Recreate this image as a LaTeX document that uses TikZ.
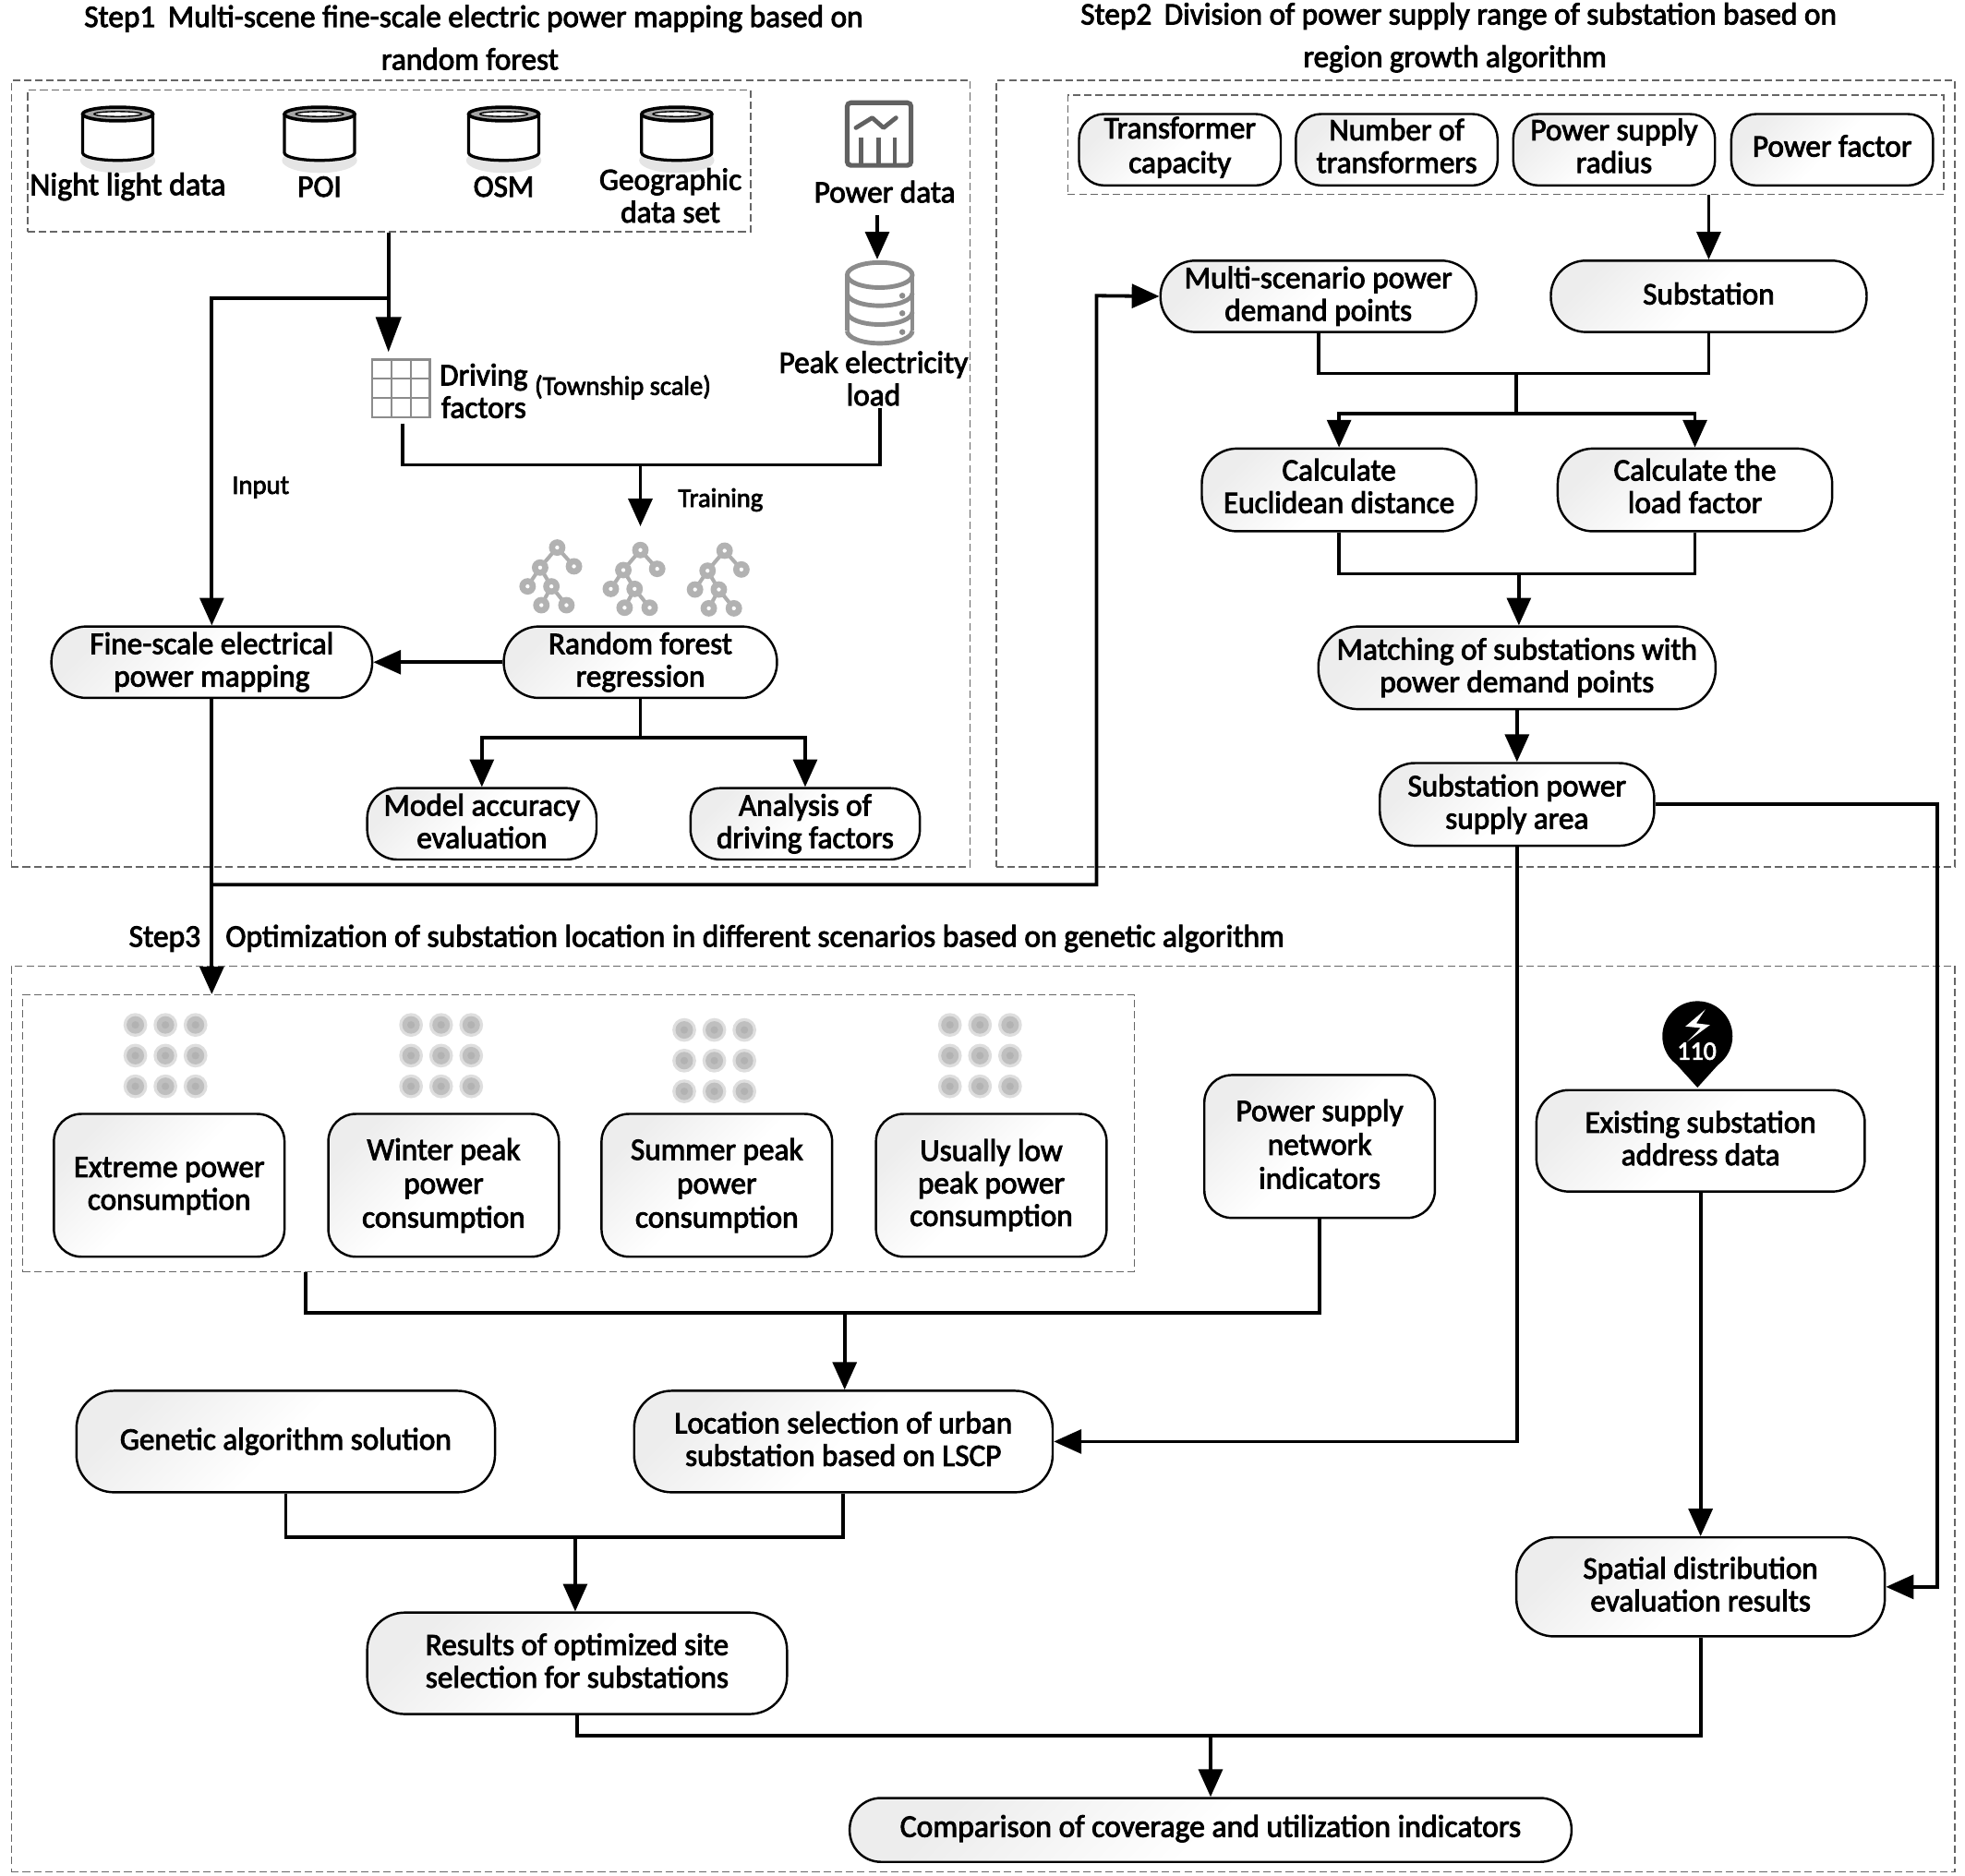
\documentclass[tikz,border=0pt]{standalone}
\usepackage{fontspec}
\setmainfont[FakeBold=2.6,FakeStretch=0.98]{Carlito}
\usetikzlibrary{arrows.meta,calc}
\newcommand\ST{\leavevmode\vrule height .708\baselineskip depth .212\baselineskip width 0pt\relax}
\newcommand\STb{\leavevmode\vrule height .67\baselineskip depth .25\baselineskip width 0pt\relax}
\newcommand\STc{\leavevmode\vrule height .63\baselineskip depth .29\baselineskip width 0pt\relax}
\tikzset{
 x=1pt,y=-1pt,
 bx/.style={draw=black,line width=1.8pt,align=center,inner sep=0pt,left color=black!7,right color=white,middle color=white,shading angle=45,font=\fontsize{25}{26}\selectfont},
 tx/.style={align=center,inner sep=0pt,font=\fontsize{25}{26}\selectfont},
 smalltx/.style={align=center,inner sep=0pt,font=\fontsize{21.5}{24}\selectfont},
 dash box/.style={draw=black!60,line width=1pt,dash pattern=on 6pt off 3pt,inner sep=0pt},
 conn/.style={line width=2.8pt,draw=black},
 arr/.style={conn,-{Triangle[length=22pt,width=19pt]}},
}
\begin{document}
\begin{tikzpicture}
\useasboundingbox (0,0) rectangle (1568,1497);
% outer dashed frames
\node[dash box,minimum width=765pt,minimum height=628pt] (frameA) at (391.5,378) {};
\node[dash box,minimum width=765pt,minimum height=628pt] (frameB) at (1177.5,378) {};
\node[dash box,minimum width=1551pt,minimum height=723pt] (frameC) at (784.5,1132.5) {};
\node[dash box,minimum width=577pt,minimum height=113pt] (groupA) at (310.5,128.5) {};
\node[dash box,minimum width=699pt,minimum height=79pt] (groupB) at (1201.5,115.5) {};
\node[dash box,minimum width=887pt,minimum height=221pt] (groupC) at (461.5,904.5) {};
% titles
\node[tx] (t1a) at (378,15) {Step1\hspace{10pt}Multi-scene fine-scale electric power mapping based on};
\node[tx] (t1b) at (375,47) {random forest};
\node[tx] (t2a) at (1164,13) {Step2\hspace{10pt}Division of power supply range of substation based on};
\node[tx] (t2b) at (1161,47) {region growth algorithm};
\node[tx,font=\fontsize{25.2}{26}\selectfont] (t3) at (564,749) {Step3\hspace{20pt}Optimization of substation location in different scenarios based on genetic algorithm};
% cylinders
\foreach \cx in {94,255,402,540}{
 \fill[black!10] (\cx,128) ellipse[x radius=30,y radius=10];
 \draw[line width=2.4pt,fill=white] (\cx-28,91) -- (\cx-28,122) arc[start angle=180,end angle=0,x radius=28,y radius=6] -- (\cx+28,91);
 \draw[line width=2.6pt,fill=black!35] (\cx,91) ellipse[x radius=28,y radius=5.5];
 \draw[line width=1pt,fill=white] (\cx,91) ellipse[x radius=19,y radius=2];
}
\node[tx,font=\fontsize{25.6}{26}\selectfont] (n1) at (102,149) {Night light data};
\node[tx] (n2) at (255,149) {POI};
\node[tx] (n3) at (402,149) {OSM};
\node[tx] (n4) at (535,156) {Geographic\\data set};
% power icon
\draw[line width=3.8pt,black!62,rounded corners=3pt] (676,82) rectangle (727,132);
\draw[line width=3.5pt,black!62,line cap=round,line join=round] (683,102) -- (696,94) -- (705,102) -- (715,94);
\foreach \bx in {687,701,714}{\draw[line width=3.5pt,black!62] (\bx,110) -- (\bx,132);}
\node[tx] (pdata) at (706,153) {Power data};
% stack icon
\begin{scope}[black!45,line width=3.6pt]
 \draw (676,219.5) -- (676,264);
 \draw (728,219.5) -- (728,264);
 \draw (676,234) arc[start angle=180,end angle=0,x radius=26,y radius=10];
 \draw (676,249) arc[start angle=180,end angle=0,x radius=26,y radius=10];
 \draw (676,264) arc[start angle=180,end angle=0,x radius=26,y radius=10];
 \draw (702,219.5) ellipse[x radius=26,y radius=10];
 \foreach \sy in {236,250,265}{\fill (720,\sy) circle[radius=2.4];}
\end{scope}
\coordinate (stacktop) at (700,207);
\node[tx] (peak) at (697,302) {Peak electricity\\load};
% grid icon
\draw[black!45,line width=1.5pt] (297,287) rectangle (343,333);
\foreach \gx in {312.3,327.6}{\draw[black!45,line width=1.5pt] (\gx,287) -- (\gx,333);}
\foreach \gy in {302.3,317.6}{\draw[black!45,line width=1.5pt] (297,\gy) -- (343,\gy);}
\coordinate (gridtop) at (310,281);
\coordinate (gridbot) at (321,338);
\node[tx] (drv) at (386,312) {Driving\\factors};
\node[smalltx] (town) at (497,309) {(Township scale)};
\node[smalltx] (inp) at (208,389) {Input};
\node[smalltx] (trn) at (575,399) {Training};
% trees
\foreach \tx/\ty in {444.6/437,511/439,578.2/439.5}{
 \begin{scope}[shift={(\tx,\ty)}]
  \draw[black!32,line width=3pt] (13.4,15) -- (0,0) -- (-13.6,16) -- (-23.6,31);
  \draw[black!32,line width=3pt] (-13.6,16) -- (-4.6,31) -- (-12.6,46);
  \draw[black!32,line width=3pt] (-4.6,31) -- (7.4,46);
  \foreach \px/\py in {0/0,-13.6/16,13.4/15,-23.6/31,-4.6/31,-12.6/46,7.4/46}{
   \fill[black!30] (\px,\py) circle[radius=6.6];
   \fill[white] (\px,\py) circle[radius=1.6];}
 \end{scope}
}
% boxes step 1
\node[bx,minimum width=256pt,minimum height=57pt,rounded corners=28pt] (fine) at (169,528.5) {\ST Fine-scale electrical\\\ST power mapping};
\node[bx,minimum width=218pt,minimum height=57pt,rounded corners=28pt] (rf) at (511,528.5) {\ST Random forest\\\ST regression};
\node[bx,minimum width=183pt,minimum height=57pt,rounded corners=24pt] (acc) at (384.5,657.5) {\ST Model accuracy\\\ST evaluation};
\node[bx,minimum width=183pt,minimum height=57pt,rounded corners=24pt] (ana) at (642.5,657.5) {\ST Analysis of\\\ST driving factors};
% boxes step 2
\node[bx,minimum width=161pt,minimum height=57pt,rounded corners=20pt,font=\fontsize{25}{27.5}\selectfont] (s1) at (941.5,119.5) {\STc Transformer\\\STc capacity};
\node[bx,minimum width=161pt,minimum height=57pt,rounded corners=20pt] (s2) at (1114.5,119.5) {\STb Number of\\\STb transformers};
\node[bx,minimum width=161pt,minimum height=57pt,rounded corners=20pt] (s3) at (1288,119.5) {\STb Power supply\\\STb radius};
\node[bx,minimum width=161pt,minimum height=57pt,rounded corners=20pt] (s4) at (1462,119.5) {\STb Power factor};
\node[bx,minimum width=252pt,minimum height=57pt,rounded corners=28pt] (multi) at (1052,236.5) {\ST Multi-scenario power\\\ST demand points};
\node[bx,minimum width=252pt,minimum height=57pt,rounded corners=28pt] (sub) at (1363.5,236.5) {\ST Substation};
\node[bx,minimum width=219pt,minimum height=66pt,rounded corners=28pt] (euc) at (1068.5,391) {\STb Calculate\\\STb Euclidean distance};
\node[bx,minimum width=219pt,minimum height=66pt,rounded corners=28pt] (lf) at (1352.5,391) {\STb Calculate the\\\STb load factor};
\node[bx,minimum width=317pt,minimum height=66pt,rounded corners=32pt] (match) at (1210.5,533) {\ST Matching of substations with\\\ST power demand points};
\node[bx,minimum width=219pt,minimum height=66pt,rounded corners=28pt] (area) at (1210.5,642) {\ST Substation power\\\ST supply area};
% dots
\foreach \ox/\oy in {108/818,328/818,546/822,758/818}{
 \foreach \i in {0,1,2}{\foreach \j in {0,1,2}{
  \fill[black!13] ($(\ox,\oy)+(24*\i,24.5*\j)$) circle[radius=9.5];
  \fill[black!25] ($(\ox,\oy)+(24*\i,24.5*\j)$) circle[radius=7];
  \fill[black!30] ($(\ox,\oy)+(24*\i,24.5*\j)$) circle[radius=3];
 }}
}
% boxes step 3
\node[bx,minimum width=184pt,minimum height=114pt,rounded corners=22pt] (c1) at (135,946) {\ST Extreme power\\\ST consumption};
\node[bx,minimum width=184pt,minimum height=114pt,rounded corners=22pt,font=\fontsize{25}{27}\selectfont] (c2) at (354,946) {\ST Winter peak\\\ST power\\\ST consumption};
\node[bx,minimum width=184pt,minimum height=114pt,rounded corners=22pt,font=\fontsize{25}{27}\selectfont] (c3) at (572,946) {\ST Summer peak\\\ST power\\\ST consumption};
\node[bx,minimum width=184pt,minimum height=114pt,rounded corners=22pt,font=\fontsize{25}{26}\selectfont] (c4) at (791,946) {\ST Usually low\\\ST peak power\\\ST consumption};
\node[bx,minimum width=184pt,minimum height=114pt,rounded corners=22pt,font=\fontsize{25}{27}\selectfont] (psn) at (1053,915) {\ST Power supply\\\ST network\\\ST indicators};
% marker
\fill[black] (1354.5,827) circle[radius=28];
\fill[black] (1331,842) -- (1354.5,868) -- (1378,842) -- cycle;
\fill[white] (1360.8,805.7) -- (1344.9,819.2) -- (1357.1,820.4) -- (1346.1,831.5) -- (1364.5,818) -- (1353.5,816.7) -- cycle;
\node[text=white,inner sep=0pt,font=\fontsize{21}{21}\selectfont] (m110) at (1354,839) {110};
\node[bx,minimum width=262pt,minimum height=81pt,rounded corners=26pt] (exist) at (1357,910.5) {\ST Existing substation\\\ST address data};
\node[bx,minimum width=334pt,minimum height=81pt,rounded corners=30pt] (ga) at (228,1150.5) {\ST Genetic algorithm solution};
\node[bx,minimum width=334pt,minimum height=81pt,rounded corners=30pt] (loc) at (673,1150.5) {\ST Location selection of urban\\\ST substation based on LSCP};
\node[bx,minimum width=294pt,minimum height=79pt,rounded corners=30pt] (spat) at (1357,1266.5) {\ST Spatial distribution\\\ST evaluation results};
\node[bx,minimum width=335pt,minimum height=81pt,rounded corners=30pt] (res) at (460.5,1327.5) {\ST Results of optimized site\\\ST selection for substations};
\node[bx,minimum width=576pt,minimum height=51pt,rounded corners=25pt,font=\fontsize{25.3}{26}\selectfont] (cmp) at (966,1460.5) {\STb Comparison of coverage and utilization indicators};
% junctions
\coordinate (ja) at (310,238);
\coordinate (jb) at (321,371);
\coordinate (jc) at (511,371);
\coordinate (jd) at (511,589);
\coordinate (je) at (169,706);
\coordinate (jf) at (1210,298);
\coordinate (jg) at (1210,330);
\coordinate (jh) at (1212,458);
\coordinate (ji) at (244,1048);
\coordinate (jj) at (674,1048);
\coordinate (jk) at (459,1227);
\coordinate (jl) at (966,1385);
% connectors step 1
\draw[conn,-{Triangle[length=28pt,width=20pt]}] (ja |- groupA.south) -- (gridtop);
\draw[arr] (ja) -| (fine.north);
\draw[arr] (700,172) -- (stacktop);
\draw[conn] (gridbot) |- (702,371) -- (702,326);
\draw[arr] (jc) -- (511,420);
\draw[arr] (rf.west) -- (fine.east);
\draw[conn] (rf.south) -- (jd);
\draw[arr] (jd) -| (acc.north);
\draw[arr] (jd) -| (ana.north);
\draw[arr] (fine.south) -- (fine.south |- groupC.north);
\draw[arr] (je) -| (875,236) -- (multi.west);
% connectors step 2
\draw[arr] (sub.north |- groupB.south) -- (sub.north);
\draw[conn] (multi.south) |- (jf) -| (sub.south);
\draw[conn] (jf) -- (jg);
\draw[arr] (jg) -| (euc.north);
\draw[arr] (jg) -| (lf.north);
\draw[conn] (euc.south) |- (jh) -| (lf.south);
\draw[arr] (jh) -- (match.north -| jh);
\draw[arr] (match.south -| area) -- (area.north);
\draw[arr] (area.south) |- (loc.east);
\draw[arr] (area.east) -- (1546,642) |- (spat.east);
% connectors step 3
\draw[conn] (ji |- groupC.south) -- (ji) -| (psn.south);
\draw[arr] (jj) -- (loc.north -| jj);
\draw[conn] (ga.south) |- (jk) -| (loc.south);
\draw[arr] (jk) -- (res.north -| jk);
\draw[arr] (exist.south) -- (spat.north);
\draw[conn] (res.south) |- (jl) -| (spat.south);
\draw[arr] (jl) -- (cmp.north);
\end{tikzpicture}
\end{document}
